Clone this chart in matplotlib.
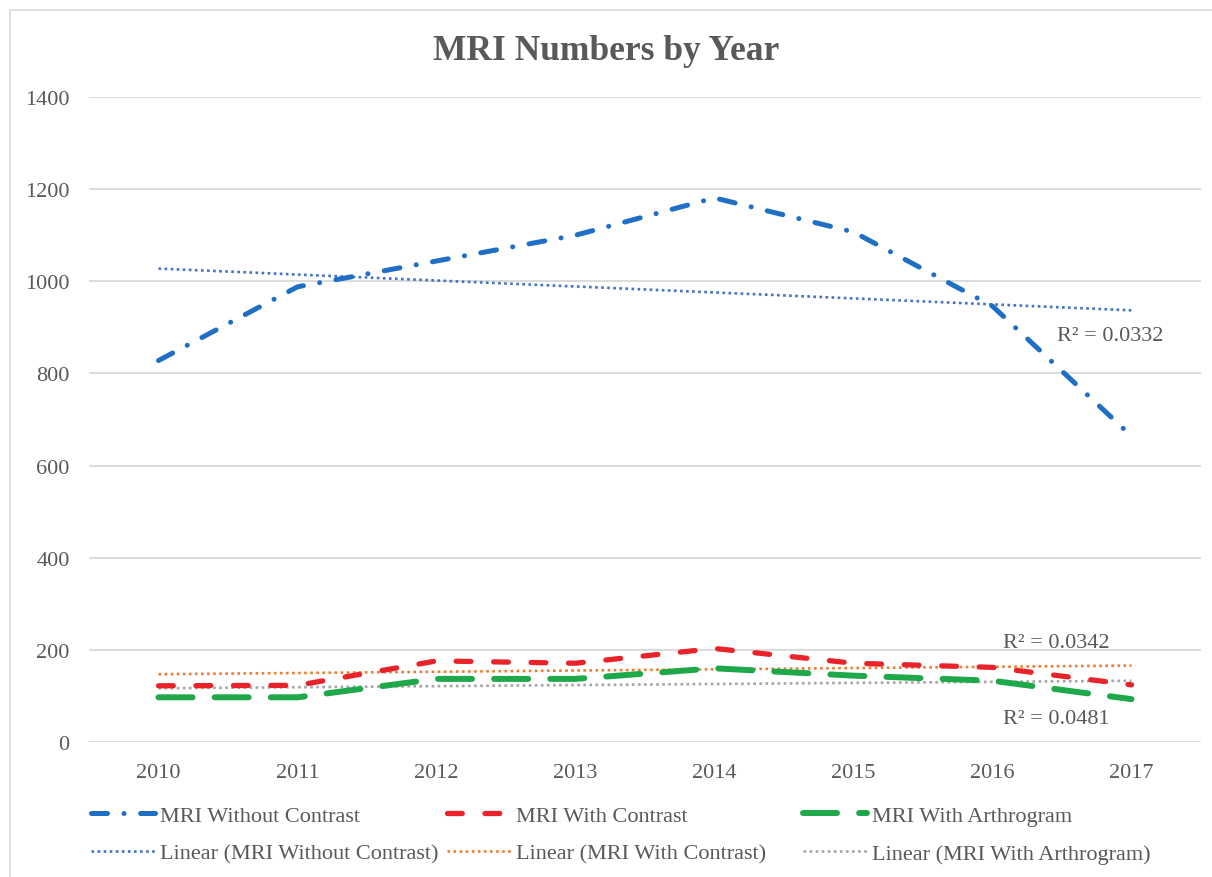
import numpy as np
import matplotlib.pyplot as plt
from matplotlib.patches import Rectangle

# values
years = [2010, 2011, 2012, 2013, 2014, 2015, 2016, 2017]
without_contrast = [828, 988, 1044, 1100, 1181, 1107, 946, 664]
with_contrast = [122, 123, 176, 171, 203, 171, 162, 124]
with_arthrogram = [97, 97, 137, 137, 160, 144, 133, 93]
r2_labels = ["R\u00b2 = 0.0332", "R\u00b2 = 0.0342", "R\u00b2 = 0.0481"]

plt.rcParams['font.family'] = ['Liberation Serif', 'DejaVu Serif']
txt = '#595959'
grid = '#d9d9d9'

fig = plt.figure(figsize=(12.12, 8.78), dpi=100)
ax = fig.add_axes([89/1212, 1 - 743/878, (1201-89)/1212, (743-98)/878])

# outer chart border
fig.patches.append(Rectangle((10/1212, -0.05), 1.1, 1 - 11/878 + 0.05,
                             transform=fig.transFigure, fill=False,
                             edgecolor=grid, lw=1.2))

x = np.arange(len(years))

series = [
    (without_contrast, '#1f6fc4', 3.6, (0, (3.2, 3.3, 0.02, 3.3)), 'MRI Without Contrast'),
    (with_contrast, '#e8232a', 3.8, (0, (2.8, 4.3)), 'MRI With Contrast'),
    (with_arthrogram, '#1fa84a', 4.3, (0, (5.7, 3.7)), 'MRI With Arthrogram'),
]
trend_colors = ['#4472c4', '#ed7d31', '#a5a5a5']

main_handles = []
trend_handles = []
for (vals, col, lw, ls, name), tcol in zip(series, trend_colors):
    h, = ax.plot(x, vals, color=col, lw=lw, linestyle=ls,
                 dash_capstyle='round', solid_capstyle='round', label=name, zorder=3)
    main_handles.append(h)
    k, b = np.polyfit(x, vals, 1)
    t, = ax.plot(x, k * x + b, color=tcol, lw=1.9, linestyle=(0, (1, 1.3)),
                 label='Linear (' + name + ')', zorder=2)
    trend_handles.append(t)

ax.set_xlim(-0.5, len(years) - 0.5)
ax.set_ylim(0, 1400)
ax.set_yticks(range(0, 1401, 200))
ax.set_xticks(x)
ax.set_xticklabels([str(y) for y in years])
ax.grid(axis='y', color=grid, lw=1.3)
ax.set_axisbelow(True)
for s in ax.spines.values():
    s.set_visible(False)
ax.tick_params(length=0, labelsize=16, labelcolor=txt)
ax.tick_params(axis='y', pad=14)
ax.tick_params(axis='x', pad=15)

# R squared labels
ax.text(6.85, 883, r2_labels[0], fontsize=16, color=txt, ha='center', va='center')
ax.text(6.46, 216, r2_labels[1], fontsize=16, color=txt, ha='center', va='center')
ax.text(6.46, 52, r2_labels[2], fontsize=16, color=txt, ha='center', va='center')

fig.text(0.5, 1 - 52/878, 'MRI Numbers by Year', fontsize=25.5, fontweight='bold',
         color=txt, ha='center', va='center')

# legend: three columns, two rows
col_x = [91, 447, 803]
for cx, mh, th in zip(col_x, main_handles, trend_handles):
    fig.legend(handles=[mh, th], loc='upper left',
               bbox_to_anchor=(cx/1212, 1 - 806/878), frameon=False,
               fontsize=16, labelcolor=txt, handlelength=2.9,
               handletextpad=0.2, labelspacing=0.8, borderaxespad=0,
               borderpad=0)

fig.savefig('out.png', dpi=100, facecolor='white')
